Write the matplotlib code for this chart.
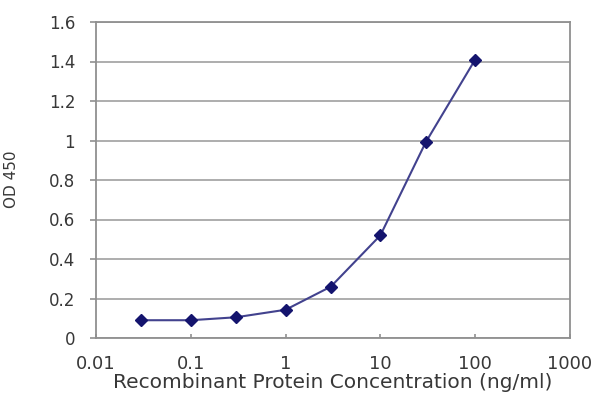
import matplotlib
matplotlib.use("Agg")
import matplotlib.pyplot as plt

# concentracion (ng/ml) y lectura OD 450
conc = [0.03, 0.1, 0.3, 1, 3, 10, 30, 100]
od450 = [0.09, 0.09, 0.105, 0.143, 0.26, 0.52, 0.99, 1.41]

xticks = [0.01, 0.1, 1, 10, 100, 1000]
xlabels = ["0.01", "0.1", "1", "10", "100", "1000"]
yticks = [0, 0.2, 0.4, 0.6, 0.8, 1, 1.2, 1.4, 1.6]
ylabels = ["0", "0.2", "0.4", "0.6", "0.8", "1", "1.2", "1.4", "1.6"]

plt.rcParams['font.family'] = ['DejaVu Sans']

fig, ax = plt.subplots(figsize=(6, 4), dpi=100)
fig.subplots_adjust(left=0.16, right=0.95, top=0.945, bottom=0.155)

ax.plot(conc, od450, color="#42428e", lw=1.5, marker="D", ms=6.5,
        markerfacecolor="#14146e", markeredgecolor="#14146e", zorder=3)

ax.set_xscale("log")
ax.set_xlim(0.01, 1000)
ax.set_ylim(0, 1.6)
ax.set_xticks(xticks)
ax.set_xticklabels(xlabels)
ax.minorticks_off()
ax.set_yticks(yticks)
ax.set_yticklabels(ylabels)
ax.yaxis.grid(True, color="#a0a0a0", lw=1.2)
ax.set_axisbelow(True)

for s in ax.spines.values():
    s.set_color("#909090")
    s.set_linewidth(1.3)

ax.tick_params(axis="y", labelsize=12, color="#909090", length=4,
               width=1.2, pad=11, labelcolor="#383838")
ax.tick_params(axis="x", labelsize=13, color="#909090", length=3,
               width=1.2, direction="in", pad=12, labelcolor="#383838")

ax.set_ylabel("OD 450", fontsize=11, color="#383838", va="center")
ax.yaxis.set_label_coords(-0.179, 0.503)
ax.set_xlabel("Recombinant Protein Concentration (ng/ml)", fontsize=14.5,
              color="#383838", va="center")
ax.xaxis.set_label_coords(0.5, -0.142)

fig.savefig("out.png", dpi=100)
